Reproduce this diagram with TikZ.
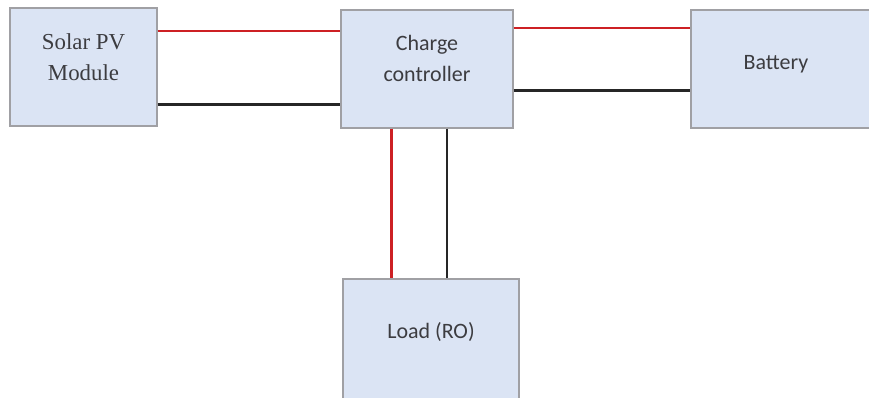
\documentclass[tikz,border=0pt]{standalone}
\usepackage{fontspec}
\setmainfont{Liberation Serif}
\newfontfamily\calibri{Carlito}
\definecolor{boxfill}{RGB}{219,228,244}
\definecolor{boxline}{RGB}{160,160,164}
\definecolor{wirered}{RGB}{205,32,36}
\definecolor{txt}{RGB}{60,60,64}
\newcommand{\liftup}[2]{\raisebox{#1}[\height][\depth]{\begin{tabular}{@{}c@{}}#2\end{tabular}}}
\tikzset{
  unit/.style={draw=boxline, fill=boxfill, line width=0.8pt, text=txt, align=center},
  redwire/.style={wirered, line width=1.7pt},
  blackwire/.style={black!85, line width=1.7pt}
}

\begin{document}
\begin{tikzpicture}[x=0.02cm, y=-0.02cm]
    \useasboundingbox (0,0) rectangle (869,398);

    \node[unit, minimum width=2.94cm, minimum height=2.36cm, font=\fontsize{13}{17.6}\selectfont] at (83.5,67)  (Solar)   {\liftup{0.16cm}{Solar PV\\Module}};
    \node[unit, minimum width=3.44cm, minimum height=2.36cm, font=\calibri\fontsize{12.5}{17.6}\selectfont] at (427,69)  (Charge)  {\liftup{0.18cm}{Charge\\controller}};
    \node[unit, minimum width=4.2cm,  minimum height=2.36cm, font=\calibri\fontsize{12.5}{15}\selectfont] at (796,69)  (Battery) {\liftup{0.1cm}{Battery}\hspace*{0.8cm}};
    \node[unit, minimum width=3.52cm, minimum height=2.42cm, font=\calibri\fontsize{12.5}{15}\selectfont] at (431,339.5) (Load) {\liftup{0.12cm}{Load (RO)}};

    \draw[redwire]   ([yshift=0.72cm]Solar.east)    -- ([yshift=0.72cm]Solar.east -| Charge.west);
    \draw[blackwire] ([yshift=-0.76cm]Solar.east)   -- ([yshift=-0.76cm]Solar.east -| Charge.west);
    \draw[redwire]   ([yshift=0.82cm]Charge.east)   -- ([yshift=0.82cm]Charge.east -| Battery.west);
    \draw[blackwire] ([yshift=-0.44cm]Charge.east)  -- ([yshift=-0.44cm]Charge.east -| Battery.west);
    \draw[redwire]   ([xshift=-0.72cm]Charge.south) -- ([xshift=-0.72cm]Charge.south |- Load.north);
    \draw[blackwire] ([xshift=0.4cm]Charge.south)   -- ([xshift=0.4cm]Charge.south |- Load.north);
\end{tikzpicture}
\end{document}
